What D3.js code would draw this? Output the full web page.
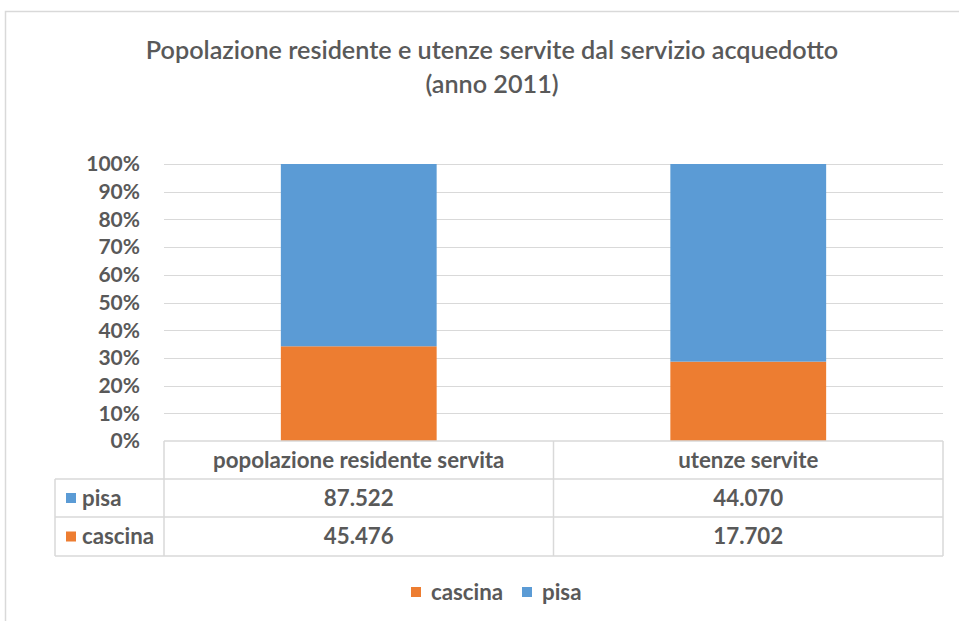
<!DOCTYPE html>
<html><head><meta charset="utf-8">
<script src="https://cdn.jsdelivr.net/npm/d3@7"></script>
<style>body{margin:0;background:#fff}svg{display:block}text{font-family:Lato,"Open Sans",sans-serif;fill:#595959}</style>
</head><body>
<script>
const categories = ["popolazione residente servita", "utenze servite"];
const seriesNames = ["cascina", "pisa"];
const cascina = [45476, 17702];
const pisa = [87522, 44070];
const tableLabels = ["87.522","44.070"];
const tableLabels2 = ["45.476","17.702"];
const yTicks = [0,0.1,0.2,0.3,0.4,0.5,0.6,0.7,0.8,0.9,1];
const colors = {cascina:"#ED7D31", pisa:"#5B9BD5"};

const W=959,H=621;
const svg=d3.select("body").append("svg").attr("width",W).attr("height",H);
svg.append("path").attr("d","M5.5,621 V11.5 H959").attr("fill","none").attr("stroke","#D9D9D9").attr("stroke-width",1.5);

const L=164,R=943,T=164,B=441;
const x=d3.scaleBand().domain(categories).range([L,R]).paddingInner(0.6).paddingOuter(0.3);
const y=d3.scaleLinear().domain([0,1]).range([B,T]);

const title=svg.append("text").attr("text-anchor","middle").attr("x",492).style("font-size","25.2px").style("font-weight","600");
title.append("tspan").attr("x",492).attr("y",59).text("Popolazione residente e utenze servite dal servizio acquedotto");
title.append("tspan").attr("x",492).attr("y",93).text("(anno 2011)");

svg.append("g").selectAll("line").data(yTicks.slice(1)).join("line")
 .attr("x1",L).attr("x2",R).attr("y1",d=>Math.round(y(d))+0.5).attr("y2",d=>Math.round(y(d))+0.5)
 .attr("stroke","#D9D9D9").attr("stroke-width",1);

svg.append("g").selectAll("text").data(yTicks).join("text")
 .attr("x",140).attr("y",d=>y(d)).attr("dy","0.35em").attr("text-anchor","end")
 .style("font-size","21px").style("font-weight","700").text(d=>d3.format(".0%")(d));

const data=categories.map((c,i)=>({cat:c,cascina:cascina[i],pisa:pisa[i]}));
const stack=d3.stack().keys(seriesNames).offset(d3.stackOffsetExpand)(data);
svg.append("g").selectAll("g").data(stack).join("g").attr("fill",d=>colors[d.key])
 .selectAll("rect").data(d=>d).join("rect")
 .attr("x",d=>x(d.data.cat)).attr("width",x.bandwidth())
 .attr("y",d=>y(d[1])).attr("height",d=>y(d[0])-y(d[1]));

const rowH=[441,479,517,556];
const lc="#D9D9D9";
const g=svg.append("g").attr("stroke",lc).attr("stroke-width",1.5).attr("fill","none");
const step=x.step();
const colEdges=[L, L+step, R];
g.append("line").attr("x1",L).attr("x2",R).attr("y1",rowH[0]).attr("y2",rowH[0]);
[1,2,3].forEach(i=>g.append("line").attr("x1",55).attr("x2",R).attr("y1",rowH[i]).attr("y2",rowH[i]));
colEdges.forEach(cx=>g.append("line").attr("x1",cx).attr("x2",cx).attr("y1",rowH[0]).attr("y2",rowH[3]));
g.append("line").attr("x1",55).attr("x2",55).attr("y1",rowH[1]).attr("y2",rowH[3]);

const tf="22.3px";
svg.append("g").selectAll("text").data(categories).join("text")
 .attr("x",d=>x(d)+x.bandwidth()/2).attr("y",(rowH[0]+rowH[1])/2).attr("dy","0.35em").attr("text-anchor","middle")
 .style("font-size",tf).style("font-weight","700").text(d=>d);
const rows=[{name:"pisa",vals:tableLabels},{name:"cascina",vals:tableLabels2}];
rows.forEach((r,ri)=>{
  const cy=(rowH[ri+1]+rowH[ri+2])/2;
  svg.append("rect").attr("x",66).attr("y",cy-5).attr("width",10).attr("height",10).attr("fill",colors[r.name]);
  svg.append("text").attr("x",82).attr("y",cy).attr("dy","0.35em").style("font-size",tf).style("font-weight","700").text(r.name);
  svg.append("g").selectAll("text").data(r.vals).join("text")
   .attr("x",(d,i)=>x(categories[i])+x.bandwidth()/2).attr("y",cy).attr("dy","0.35em").attr("text-anchor","middle")
   .style("font-size",tf).style("font-weight","700").text(d=>d);
});

const leg=[{n:"cascina",x:411},{n:"pisa",x:522}];
leg.forEach(l=>{
  svg.append("rect").attr("x",l.x).attr("y",587).attr("width",10).attr("height",10).attr("fill",colors[l.n]);
  svg.append("text").attr("x",l.x+20).attr("y",592).attr("dy","0.35em").style("font-size",tf).style("font-weight","700").text(l.n);
});
</script>
</body></html>
